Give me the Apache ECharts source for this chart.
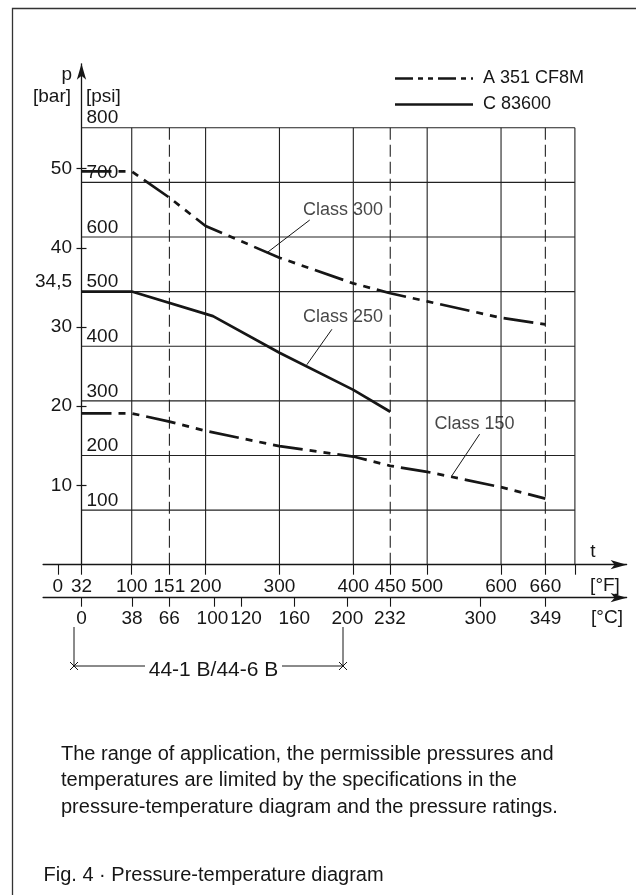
<!DOCTYPE html>
<html><head><meta charset="utf-8">
<script src="https://cdn.jsdelivr.net/npm/echarts@6/dist/echarts.min.js"></script>
<style>html,body{margin:0;padding:0;background:#fff}#c{width:636px;height:895px}</style>
</head><body><div id="c"></div>
<script>
// ---- data (temperature in °F, pressure in psi) ----
const class300F   = [32, 100, 151, 200, 300, 400, 450, 500, 600, 660];
const class300Psi = [720, 720, 672, 620, 562, 515, 497, 482, 452, 440];
const class250F   = [32, 100, 210, 300, 400, 450];
const class250Psi = [500, 500, 455, 388, 320, 280];
const class150F   = [32, 100, 151, 200, 300, 400, 450, 500, 600, 660];
const class150Psi = [277, 277, 262, 245, 217, 198, 181, 170, 142, 121];

const fLabels   = [0, 32, 100, 151, 200, 300, 400, 450, 500, 600, 660];
const cLabels   = [0, 38, 66, 100, 120, 160, 200, 232, 300, 349];
const psiLabels = [100, 200, 300, 400, 500, 600, 700, 800];
const barTicks  = [10, 20, 30, 40, 50];
const barLabels = [10, 20, 30, 34.5, 40, 50];
const gridSolidF  = [100, 200, 300, 400, 500, 600, 700];
const gridDashedF = [151, 450, 660];
const gridPsi     = [100, 200, 300, 400, 500, 600, 700, 800];
const classNames  = ['Class 300', 'Class 250', 'Class 150'];
const legendNames = ['A 351 CF8M', 'C 83600'];

// annotation anchors in data units (°F, psi)
const classLabelAt = [[332, 650], [332, 453], [510, 257]];
const leaderFrom   = [[341, 631], [371, 431], [571, 239]];
const leaderTo     = [[283, 571], [337, 366], [533, 162]];

const FONT = "'Liberation Sans', Arial, sans-serif";
const INK = '#161616';
const GRIDC = '#222';
const PSI_PER_BAR = 14.5038;
const F_MIN = -20, F_MAX = 770, PSI_MAX = 917;

const zip = (a, b) => a.map((v, i) => [v, b[i]]);
const dashDot = [30, 7, 7, 7, 7, 7];

const series = [];
gridSolidF.forEach(f => series.push({type:'line', silent:true, symbol:'none', z:1, data:[[f,0],[f,800]], lineStyle:{color:GRIDC, width:1.1}}));
gridDashedF.forEach(f => series.push({type:'line', silent:true, symbol:'none', z:1, data:[[f,0],[f,800]], lineStyle:{color:GRIDC, width:1.1, type:[12,5]}}));
gridPsi.forEach(p => series.push({type:'line', silent:true, symbol:'none', z:1, data:[[32,p],[700,p]], lineStyle:{color:GRIDC, width:1.1}}));

series.push({name:legendNames[0], type:'line', symbol:'none', z:3, data:zip(class300F, class300Psi), lineStyle:{color:INK, width:2.7, type:dashDot, cap:'butt'}, itemStyle:{color:INK}});
series.push({name:legendNames[1], type:'line', symbol:'none', z:3, data:zip(class250F, class250Psi), lineStyle:{color:INK, width:2.7}, itemStyle:{color:INK}});
series.push({name:legendNames[0], type:'line', symbol:'none', z:3, data:zip(class150F, class150Psi), lineStyle:{color:INK, width:2.7, type:dashDot, cap:'butt'}, itemStyle:{color:INK}});

classNames.forEach((n, i) => {
  series.push({type:'line', silent:true, symbol:'none', z:2, data:[leaderFrom[i], leaderTo[i]], lineStyle:{color:INK, width:1}});
  series.push({type:'scatter', silent:true, symbolSize:0, z:4, data:[classLabelAt[i]],
    label:{show:true, position:'right', distance:0, formatter:n, fontSize:18, color:INK, fontFamily:FONT}});
});

const axisLineStyle = {color:INK, width:1.3};
const txt = (x, y, s, align, size) => ({type:'text', x, y, style:{text:s, fill:INK, font:(size||19)+'px '+FONT, textAlign:align||'left', textVerticalAlign:'middle'}});
const ln = (x1, y1, x2, y2, w, dash) => ({type:'line', shape:{x1, y1, x2, y2}, style:{stroke:INK, lineWidth:w||1, lineDash:dash||null, lineCap:'butt'}});

const option = {
  animation:false,
  backgroundColor:'#fff',
  textStyle:{fontFamily:FONT},
  grid:{left:43.1, top:63.8, width:583.5, height:500.9, containLabel:false, outerBoundsMode:'none'},
  xAxis:[
    {type:'value', min:F_MIN, max:F_MAX, position:'bottom',
     axisLine:{onZero:false, symbol:['none','arrow'], symbolSize:[7,16], lineStyle:axisLineStyle},
     splitLine:{show:false},
     axisTick:{customValues:fLabels.concat([700]), length:10, lineStyle:{color:INK, width:1.1}},
     axisLabel:{customValues:fLabels, margin:12.5, fontSize:19, color:INK, hideOverlap:false}},
    {type:'value', min:(F_MIN-32)/1.8, max:(F_MAX-32)/1.8, position:'bottom', offset:33,
     axisLine:{onZero:false, symbol:['none','arrow'], symbolSize:[7,16], lineStyle:axisLineStyle},
     splitLine:{show:false},
     axisTick:{customValues:cLabels, length:9, lineStyle:{color:INK, width:1.1}},
     axisLabel:{customValues:cLabels, margin:11.5, fontSize:19, color:INK, hideOverlap:false,
       formatter:v => v === 100 ? '{l|100}' : (v === 120 ? '{r|120}' : String(v)),
       rich:{l:{fontSize:19, color:INK, padding:[0,4,0,0]}, r:{fontSize:19, color:INK, padding:[0,0,0,10]}}}}
  ],
  yAxis:[
    {type:'value', position:'left', min:0, max:PSI_MAX, offset:-38.4,
     axisLine:{onZero:false, symbol:['none','arrow'], symbolSize:[7,16], lineStyle:axisLineStyle},
     axisTick:{show:false}, splitLine:{show:false},
     axisLabel:{inside:true, customValues:psiLabels, margin:5, color:INK,
       formatter:v => '{p|' + v + '}',
       rich:{p:{fontSize:19, color:INK, padding:[0,0,19,0]}}}},
    {type:'value', position:'left', min:0, max:PSI_MAX/PSI_PER_BAR, offset:-43.4,
     axisLine:{show:false, onZero:false}, splitLine:{show:false},
     axisTick:{show:true, customValues:barTicks, length:10, lineStyle:{color:INK, width:1.2}},
     axisLabel:{customValues:barLabels, margin:14.5, fontSize:19, color:INK,
       formatter:v => v === 34.5 ? '{u|34,5}' : String(v),
       rich:{u:{fontSize:19, color:INK, padding:[0,0,20,0]}}}}
  ],
  series,
  graphic:[
    {type:'polyline', shape:{points:[[636,8.5],[12.5,8.5],[12.5,895]]}, style:{stroke:'#333', lineWidth:1.3, fill:null}},
    // legend
    ln(395, 78.5, 473, 78.5, 2.7, [18,5,5,5,5,5]),
    txt(483, 78.5, legendNames[0], 'left', 18),
    ln(395, 104.5, 473, 104.5, 2.7),
    txt(483, 104.5, legendNames[1], 'left', 18),
    txt(72, 75, 'p', 'right'),
    txt(71, 97, '[bar]', 'right'),
    txt(86, 97, '[psi]', 'left'),
    txt(593, 552, 't', 'center'),
    txt(605, 586, '[°F]', 'center'),
    txt(607, 618, '[°C]', 'center'),
    ln(74, 627, 74, 666), ln(74, 666, 145, 666), ln(282, 666, 343, 666), ln(343, 627, 343, 666),
    ln(70, 662, 78, 670), ln(70, 670, 78, 662), ln(339, 662, 347, 670), ln(339, 670, 347, 662),
    txt(213.5, 670, '44-1 B/44-6 B', 'center', 21),
    txt(61, 754, 'The range of application, the permissible pressures and', 'left', 20),
    txt(61, 780, 'temperatures are limited by the specifications in the', 'left', 20),
    txt(61, 807, 'pressure-temperature diagram and the pressure ratings.', 'left', 20),
    txt(43.5, 875, 'Fig. 4 · Pressure-temperature diagram', 'left', 20)
  ]
};
const chart = echarts.init(document.getElementById('c'), null, {renderer:'canvas'});
chart.setOption(option);
</script></body></html>
